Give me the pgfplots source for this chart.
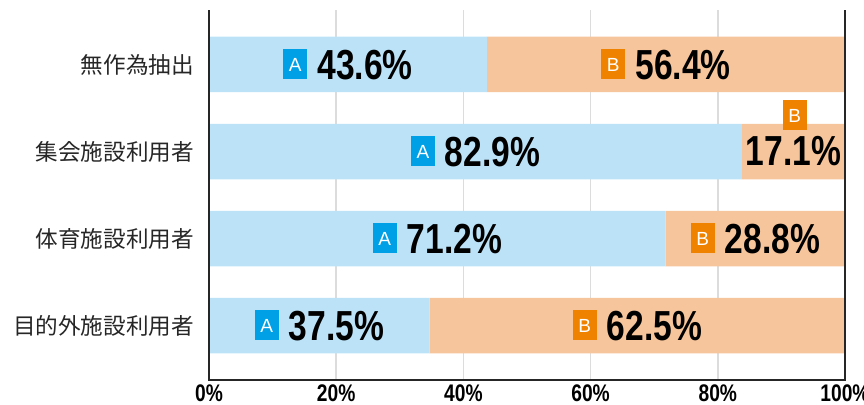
\documentclass[border=0pt]{standalone}
\usepackage{pgfplots}
\pgfplotsset{compat=1.18}
\usepackage{fontspec}
\setmainfont{Liberation Sans}
\newfontfamily\din[FakeStretch=0.8]{Liberation Sans}
\newfontfamily\cjk{Noto Sans CJK JP}
\definecolor{barA}{HTML}{BBE2F7}
\definecolor{barB}{HTML}{F7C59B}
\definecolor{badA}{HTML}{00A0E6}
\definecolor{badB}{HTML}{EF8300}
\definecolor{gridc}{HTML}{DCDCDC}
\newcommand\badge[2]{{\setlength\fboxsep{0pt}\colorbox{#1}{\makebox[12pt]{\rule{0pt}{15pt}\raisebox{4.1pt}{\color{white}\fontsize{9.5}{9.5}\selectfont #2}}}}}
\newcommand\num[1]{{\din\bfseries\fontsize{21}{21}\selectfont #1\%}}
\newcommand\lab[3]{\badge{#1}{#2}\hspace{5pt}\num{#3}}
\begin{document}
\begin{tikzpicture}
\begin{axis}[
  scale only axis, width=318pt, height=185pt, at={(0,0)}, anchor=south west,
  xbar stacked, bar width=27.75pt,
  xmin=0, xmax=100, ymin=-0.626, ymax=3.626, y dir=reverse,
  ytick={0,1,2,3},
  yticklabels={無作為抽出,集会施設利用者,体育施設利用者,目的外施設利用者},
  xtick={0,20,40,60,80,100},
  xticklabels={0\%,20\%,40\%,60\%,80\%,100\%},
  major tick length=0pt,
  axis line style={draw=none},
  xmajorgrids, grid style={gridc,line width=0.75pt},
  yticklabel style={font=\cjk\fontsize{11.3}{12}\selectfont, text=black!85, xshift=-4pt},
  xticklabel style={font=\din\bfseries\fontsize{12}{12}\selectfont, text=black, yshift=1.2pt},
  clip=false,
]
\addplot[fill=barA, draw=none] coordinates {(43.7,0) (83.8,1) (71.8,2) (34.7,3)};
\addplot[fill=barB, draw=none] coordinates {(56.3,0) (16.2,1) (28.2,2) (65.3,3)};
\coordinate (a0) at (axis cs:21.85,0);
\coordinate (b0) at (axis cs:71.85,0);
\coordinate (a1) at (axis cs:41.9,1);
\coordinate (b1) at (axis cs:91.9,1);
\coordinate (bb1) at (axis cs:92.1,1);
\coordinate (a2) at (axis cs:35.9,2);
\coordinate (b2) at (axis cs:85.9,2);
\coordinate (a3) at (axis cs:17.35,3);
\coordinate (b3) at (axis cs:67.35,3);
\end{axis}
\node[inner sep=0pt] at (a0) {\lab{badA}{A}{43.6}};
\node[inner sep=0pt] at (b0) {\lab{badB}{B}{56.4}};
\node[inner sep=0pt] at (a1) {\lab{badA}{A}{82.9}};
\node[inner sep=0pt] at (b1) {\num{17.1}};
\node[inner sep=0pt, yshift=18pt] at (bb1) {\badge{badB}{B}};
\node[inner sep=0pt] at (a2) {\lab{badA}{A}{71.2}};
\node[inner sep=0pt] at (b2) {\lab{badB}{B}{28.8}};
\node[inner sep=0pt] at (a3) {\lab{badA}{A}{37.5}};
\node[inner sep=0pt] at (b3) {\lab{badB}{B}{62.5}};
\draw[line width=1pt, black!85] (0,185pt) -- (0,0) -- (318pt,0) -- (318pt,185pt);
\pgfresetboundingbox
\useasboundingbox (-104.5pt,-12pt) rectangle (327.5pt,190pt);
\end{tikzpicture}
\end{document}
